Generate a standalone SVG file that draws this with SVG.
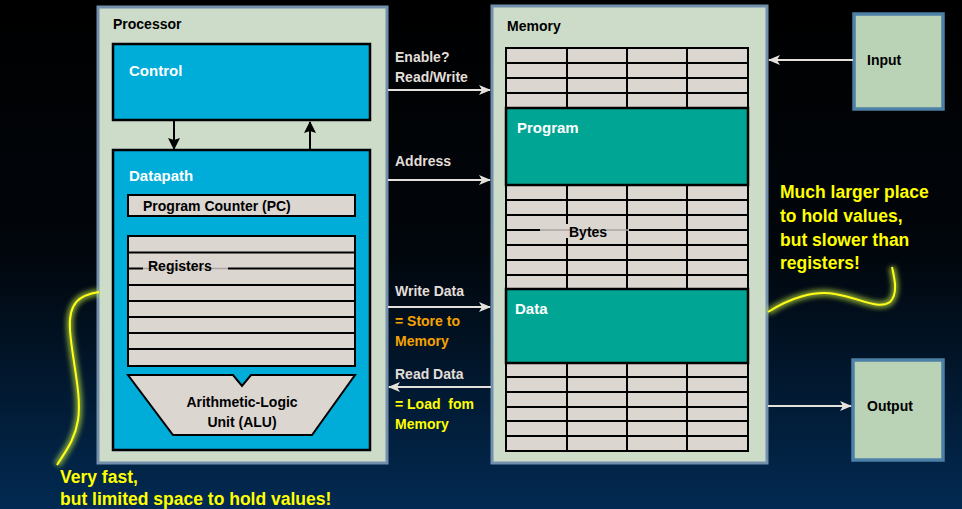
<svg xmlns="http://www.w3.org/2000/svg" width="962" height="509" viewBox="0 0 962 509">
  <defs>
    <linearGradient id="bg" x1="0" y1="0" x2="0" y2="1">
      <stop offset="0" stop-color="#000000"/>
      <stop offset="0.5" stop-color="#01060c"/>
      <stop offset="1" stop-color="#022a52"/>
    </linearGradient>
    <marker id="head-light" viewBox="0 0 12 10" refX="11" refY="5" markerWidth="12" markerHeight="10" markerUnits="userSpaceOnUse" orient="auto">
      <path d="M0,0 L12,5 L0,10 L3,5 z" fill="#e4e0dc"/>
    </marker>
    <marker id="head-dark" viewBox="0 0 12 12" refX="11" refY="6" markerWidth="12" markerHeight="12" markerUnits="userSpaceOnUse" orient="auto">
      <path d="M0,0 L12,6 L0,12 L2,6 z" fill="#000"/>
    </marker>
    <filter id="glow" x="-20%" y="-20%" width="140%" height="140%">
      <feGaussianBlur stdDeviation="2.5"/>
    </filter>
  </defs>
  <style>
    text { font-family: "Liberation Sans", Arial, sans-serif; font-weight: bold; }
    .frame { fill: #cddcc8; stroke: #7290ae; stroke-width: 3; }
    .blue { fill: #00acd8; stroke: #000; stroke-width: 2.5; }
    .cell { fill: #dcd6d1; stroke: #000; stroke-width: 2; }
    .teal { fill: #00a594; stroke: #000; stroke-width: 2.5; }
    .io { fill: #bad3b6; stroke: #4c80a6; stroke-width: 3.5; }
    .grid { stroke: #000; stroke-width: 2; fill: none; }
    .dark { font-size: 14px; fill: #000; }
    .white { font-size: 15px; fill: #fff; }
    .label { font-size: 14px; fill: #e2ded9; }
    .orange { font-size: 14px; fill: #f5a300; }
    .yel { font-size: 14px; fill: #ffff00; }
    .note { font-size: 17.5px; fill: #ffff00; }
    .wire { stroke: #e4e0dc; stroke-width: 2; fill: none; marker-end: url(#head-light); }
    .ctl { stroke: #000; stroke-width: 2; fill: none; marker-end: url(#head-dark); }
    .squig { stroke: #ffff1a; stroke-width: 2; fill: none; }
    .squig-glow { stroke: #d8ff40; stroke-width: 7; fill: none; opacity: 0.6; filter: url(#glow); }
  </style>

  <rect x="0" y="0" width="962" height="509" fill="url(#bg)"/>

  <!-- Processor -->
  <g id="processor">
    <rect class="frame" x="98" y="7" width="289" height="456"/>
    <text class="dark" x="113" y="29">Processor</text>
  </g>

  <g id="control">
    <rect class="blue" x="113" y="44" width="257" height="76"/>
    <text class="white" x="129" y="76">Control</text>
  </g>

  <g id="datapath">
    <rect class="blue" x="113" y="150" width="257" height="300"/>
    <text class="white" x="129" y="181">Datapath</text>
  </g>

  <g id="pc">
    <rect class="cell" x="128" y="195" width="227" height="21"/>
    <text class="dark" x="143" y="211">Program Counter (PC)</text>
  </g>

  <g id="registers">
    <rect class="cell" x="128" y="236" width="227" height="130"/>
    <path class="grid" d="M128,252.5H355 M128,285H355 M128,301H355 M128,317H355 M128,333H355 M128,349H355"/>
    <path class="grid" d="M128,268.5H143 M228,268.5H355"/>
    <path d="M143,268.5H228" stroke="#aaa5a1" stroke-width="1.5"/>
    <text class="dark" x="148" y="271">Registers</text>
  </g>

  <g id="alu">
    <path class="cell" d="M128,375 L233,375 L242,386 L251,375 L355,375 L312,435 L173,435 Z"/>
    <text class="dark" x="242" y="407" text-anchor="middle">Arithmetic-Logic</text>
    <text class="dark" x="242" y="427" text-anchor="middle">Unit (ALU)</text>
  </g>

  <!-- Memory -->
  <g id="memory">
    <rect class="frame" x="492" y="6" width="275" height="457"/>
    <text class="dark" x="507" y="31">Memory</text>
    <rect class="cell" x="506" y="48" width="242" height="60"/>
    <rect class="cell" x="506" y="185" width="242" height="104"/>
    <rect class="cell" x="506" y="363" width="242" height="88"/>
    <path class="grid" d="M506,63H748 M506,78H748 M506,93H748
                          M506,200H748 M506,215H748 M506,245H748 M506,260H748 M506,275H748
                          M506,377H748 M506,392H748 M506,407H748 M506,421H748 M506,436H748
                          M567,48V108 M627,48V108 M687,48V108
                          M567,185V224 M567,238V289 M627,185V289 M687,185V289
                          M567,363V451 M627,363V451 M687,363V451"/>
    <path class="grid" d="M506,230H540 M629,230H748"/>
    <path d="M540,230H629" stroke="#aaa5a1" stroke-width="1.5"/>
    <text class="dark" x="569" y="237">Bytes</text>
  </g>

  <g id="program">
    <rect class="teal" x="506" y="108" width="242" height="77"/>
    <text class="white" x="517" y="133">Program</text>
  </g>

  <g id="data">
    <rect class="teal" x="506" y="289" width="242" height="74"/>
    <text class="white" x="515" y="314">Data</text>
  </g>

  <!-- Input / Output devices -->
  <g id="input">
    <rect class="io" x="854" y="14" width="89" height="95"/>
    <text class="dark" x="867" y="65">Input</text>
  </g>

  <g id="output">
    <rect class="io" x="853" y="360" width="90" height="100"/>
    <text class="dark" x="867" y="411">Output</text>
  </g>

  <!-- Connectors -->
  <g id="connectors">
    <path class="ctl" d="M174,121 V149"/>
    <path class="ctl" d="M310,150 V122"/>
    <path class="wire" d="M388,90 H490"/>
    <path class="wire" d="M388,180 H490"/>
    <path class="wire" d="M388,307 H490"/>
    <path class="wire" d="M491,387 H389"/>
    <path class="wire" d="M853,60 H769"/>
    <path class="wire" d="M768,406 H851"/>
  </g>

  <!-- Bus labels -->
  <g id="bus-labels">
    <text class="label" x="395" y="62">Enable?</text>
    <text class="label" x="395" y="82">Read/Write</text>
    <text class="label" x="395" y="166">Address</text>
    <text class="label" x="395" y="296">Write Data</text>
    <text class="orange" x="395" y="326">= Store to</text>
    <text class="orange" x="395" y="346">Memory</text>
    <text class="label" x="395" y="379">Read Data</text>
    <text class="yel" x="395" y="409" xml:space="preserve">= Load  fom</text>
    <text class="yel" x="395" y="429">Memory</text>
  </g>

  <!-- Callouts -->
  <g id="callouts">
    <path class="squig-glow" d="M99,292 C80,295 68,302 70,330 C72,360 82,395 78,420 C75,440 65,452 57,465"/>
    <path class="squig" d="M99,292 C80,295 68,302 70,330 C72,360 82,395 78,420 C75,440 65,452 57,465"/>
    <path class="squig-glow" d="M768,312 C790,298 815,290 835,294 C860,298 878,310 890,302 C898,294 895,280 892,267"/>
    <path class="squig" d="M768,312 C790,298 815,290 835,294 C860,298 878,310 890,302 C898,294 895,280 892,267"/>
    <text class="note" x="780" y="198">Much larger place</text>
    <text class="note" x="780" y="222">to hold values,</text>
    <text class="note" x="780" y="246">but slower than</text>
    <text class="note" x="780" y="269">registers!</text>
    <text class="note" x="60" y="483">Very fast,</text>
    <text class="note" x="60" y="505">but limited space to hold values!</text>
  </g>
</svg>
